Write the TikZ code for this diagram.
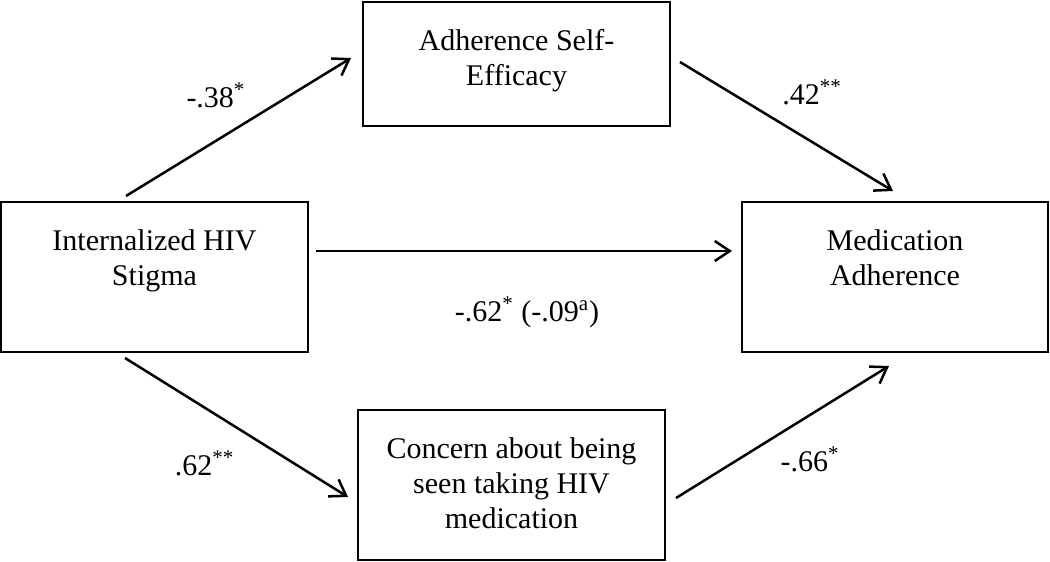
\documentclass[tikz,border=0pt]{standalone}
\usepackage{fontspec}
\setmainfont{Liberation Serif}
\usetikzlibrary{arrows.meta,positioning}

\begin{document}
\begin{tikzpicture}[x=0.5pt,y=-0.5pt,
  box/.style={draw,line width=1pt,minimum width=153.5pt,minimum height=75pt,inner sep=0pt},
  boxtext/.style={align=center,inner sep=0pt,font=\fontsize{15}{17.5}\selectfont},
  effect/.style={line width=1.25pt,-{Straight Barb[length=7.5pt,width=10pt]}},
  coef/.style={anchor=base,inner sep=0pt,font=\fontsize{15}{17.5}\selectfont}]

\useasboundingbox (0,0) rectangle (1050,562);

% boxes
\node[box] (stigma) at (154.5,277) {};
\node[box,minimum height=62pt] (efficacy) at (516.5,64) {};
\node[box,minimum width=153pt] (medadh) at (895,277) {};
\node[box] (concern) at (511.5,485) {};

\node[boxtext,below=14pt of stigma.north] (stigma-txt) {Internalized HIV\\Stigma};
\node[boxtext,below=14pt of efficacy.north] (efficacy-txt) {Adherence Self-\\Efficacy};
\node[boxtext,below=14pt of medadh.north] (medadh-txt) {Medication\\Adherence};
\node[boxtext,below=14pt of concern.north] (concern-txt) {Concern about being\\seen taking HIV\\medication};

% paths
\draw[effect] ([shift={(126,-5)}]stigma.north west) -- ([shift={(-11,-6)}]efficacy.west);
\draw[effect] ([shift={(9,-2)}]efficacy.east) -- ([shift={(-2,-10)}]medadh.north);
\draw[effect] ([shift={(7,-26)}]stigma.east) -- ([shift={(-9,-26)}]medadh.west);
\draw[effect] ([shift={(125,5)}]stigma.south west) -- ([shift={(-9,12)}]concern.west);
\draw[effect] ([shift={(10,13)}]concern.east) -- ([shift={(-6,13)}]medadh.south);

% coefficients
\node[coef] (a-path) at (216,107) {-.38\textsuperscript{*}};
\node[coef] (b-path) at (812,104) {.42\textsuperscript{**}};
\node[coef] (c-path) at (527,321) {-.62\textsuperscript{*} (-.09\textsuperscript{a})};
\node[coef] (d-path) at (204.5,475) {.62\textsuperscript{**}};
\node[coef] (e-path) at (810,471) {-.66\textsuperscript{*}};

\end{tikzpicture}
\end{document}
